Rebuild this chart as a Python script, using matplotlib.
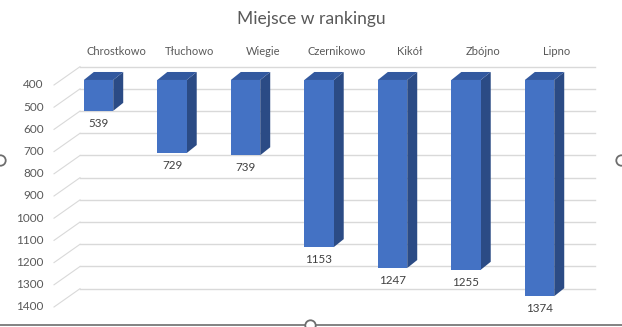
import matplotlib

matplotlib.use("Agg")

import matplotlib.pyplot as plt  # noqa: E402
import numpy as np  # noqa: E402
from matplotlib.patches import Polygon  # noqa: E402
from matplotlib.lines import Line2D  # noqa: E402
from matplotlib.transforms import ScaledTranslation  # noqa: E402

# Dane
towns = ["Chrostkowo", "Tłuchowo", "Wiegie", "Czernikowo", "Kikół", "Zbójno", "Lipno"]
rank = [539, 729, 739, 1153, 1247, 1255, 1374]
ticks = [400, 500, 600, 700, 800, 900, 1000, 1100, 1200, 1300, 1400]

FRONT = "#4472c4"
SIDE = "#2b4b85"
TOP = "#33599f"
GRID = "#d9d9d9"
TEXT = "#595959"

plt.rcParams["font.family"] = ["Lato", "DejaVu Sans"]

DPI = 100
fig = plt.figure(figsize=(6.22, 3.27), dpi=DPI)
ax = fig.add_axes([0.0993, 0.0765, 0.8272, 0.6789])
ax.set_xlim(-0.5, len(towns) - 0.5)
ax.set_ylim(ticks[-1], ticks[0])
ax.axis("off")


def shift(dx, dy):
    """Przesunięcie w pikselach (dy w dół obrazu dodatnie)."""
    return ax.transData + ScaledTranslation(dx / DPI, -dy / DPI, fig.dpi_scale_trans)


def offset_pt(x, y, dx, dy):
    """Punkt danych przesunięty o piksele, z powrotem w jednostkach danych."""
    px, py = ax.transData.transform((x, y))
    return ax.transData.inverted().transform((px + dx, py - dy))


BACK = (18.25, -13.3)   # tylna ściana względem płaszczyzny słupków
FLOOR = (-7.75, 5.0)    # przednia krawędź osi
DEPTH = (10.0, -8.0)    # głębokość słupka

# siatka na tylnej ścianie + ukośne linie "podłogi" przy osi
x0, x1 = -0.5, len(towns) - 0.5
for v in ticks:
    ax.plot([x0, x1], [v, v], color=GRID, linewidth=1.0, transform=shift(*BACK),
            clip_on=False, zorder=1)
    a = offset_pt(x0, v, *FLOOR)
    b = offset_pt(x0, v, *BACK)
    ax.plot([a[0], b[0]], [a[1], b[1]], color=GRID, linewidth=0.8, clip_on=False, zorder=1)
    ax.text(x0, v, str(v), transform=shift(-18, 5), ha="right", va="center",
            fontsize=8.5, color=TEXT)

# słupki 3D
w = 0.40
x = np.arange(len(towns))
for xi, v in zip(x, rank):
    l, r = xi - w / 2, xi + w / 2
    side = [(r, ticks[0]), (r, v), tuple(offset_pt(r, v, *DEPTH)), tuple(offset_pt(r, ticks[0], *DEPTH))]
    top = [(l, ticks[0]), (r, ticks[0]), tuple(offset_pt(r, ticks[0], *DEPTH)),
           tuple(offset_pt(l, ticks[0], *DEPTH))]
    ax.add_patch(Polygon(side, closed=True, facecolor=SIDE, edgecolor="none", zorder=3, clip_on=False))
    ax.add_patch(Polygon(top, closed=True, facecolor=TOP, edgecolor="none", zorder=3, clip_on=False))
ax.bar(x, np.array(rank) - ticks[0], bottom=ticks[0], width=w, color=FRONT, zorder=4)

# etykiety danych i kategorii
for xi, v, name in zip(x, rank, towns):
    ax.text(xi, v, str(v), transform=shift(0, 12.5), ha="center", va="center",
            fontsize=8.4, color="#404040")
    ax.text(xi, ticks[0], name, transform=shift(17.5, -28), ha="center", va="center",
            fontsize=8.0, color=TEXT)

fig.text(0.5, 1 - 19 / 327, "Miejsce w rankingu", ha="center", va="center",
         fontsize=12.6, color=TEXT)

# ramka zaznaczenia wykresu
fig.add_artist(Line2D([0, 1], [1 - 325 / 327] * 2, color="#6d6d6d", linewidth=1.2))
for cx, cy in [(310, 325), (0, 160), (621, 160)]:
    fig.add_artist(Line2D([cx / 622], [1 - cy / 327], marker="o", markersize=7.5,
                          markerfacecolor="white", markeredgecolor="#6d6d6d",
                          markeredgewidth=1.3, linestyle="none"))

fig.savefig("out.png", dpi=DPI)
